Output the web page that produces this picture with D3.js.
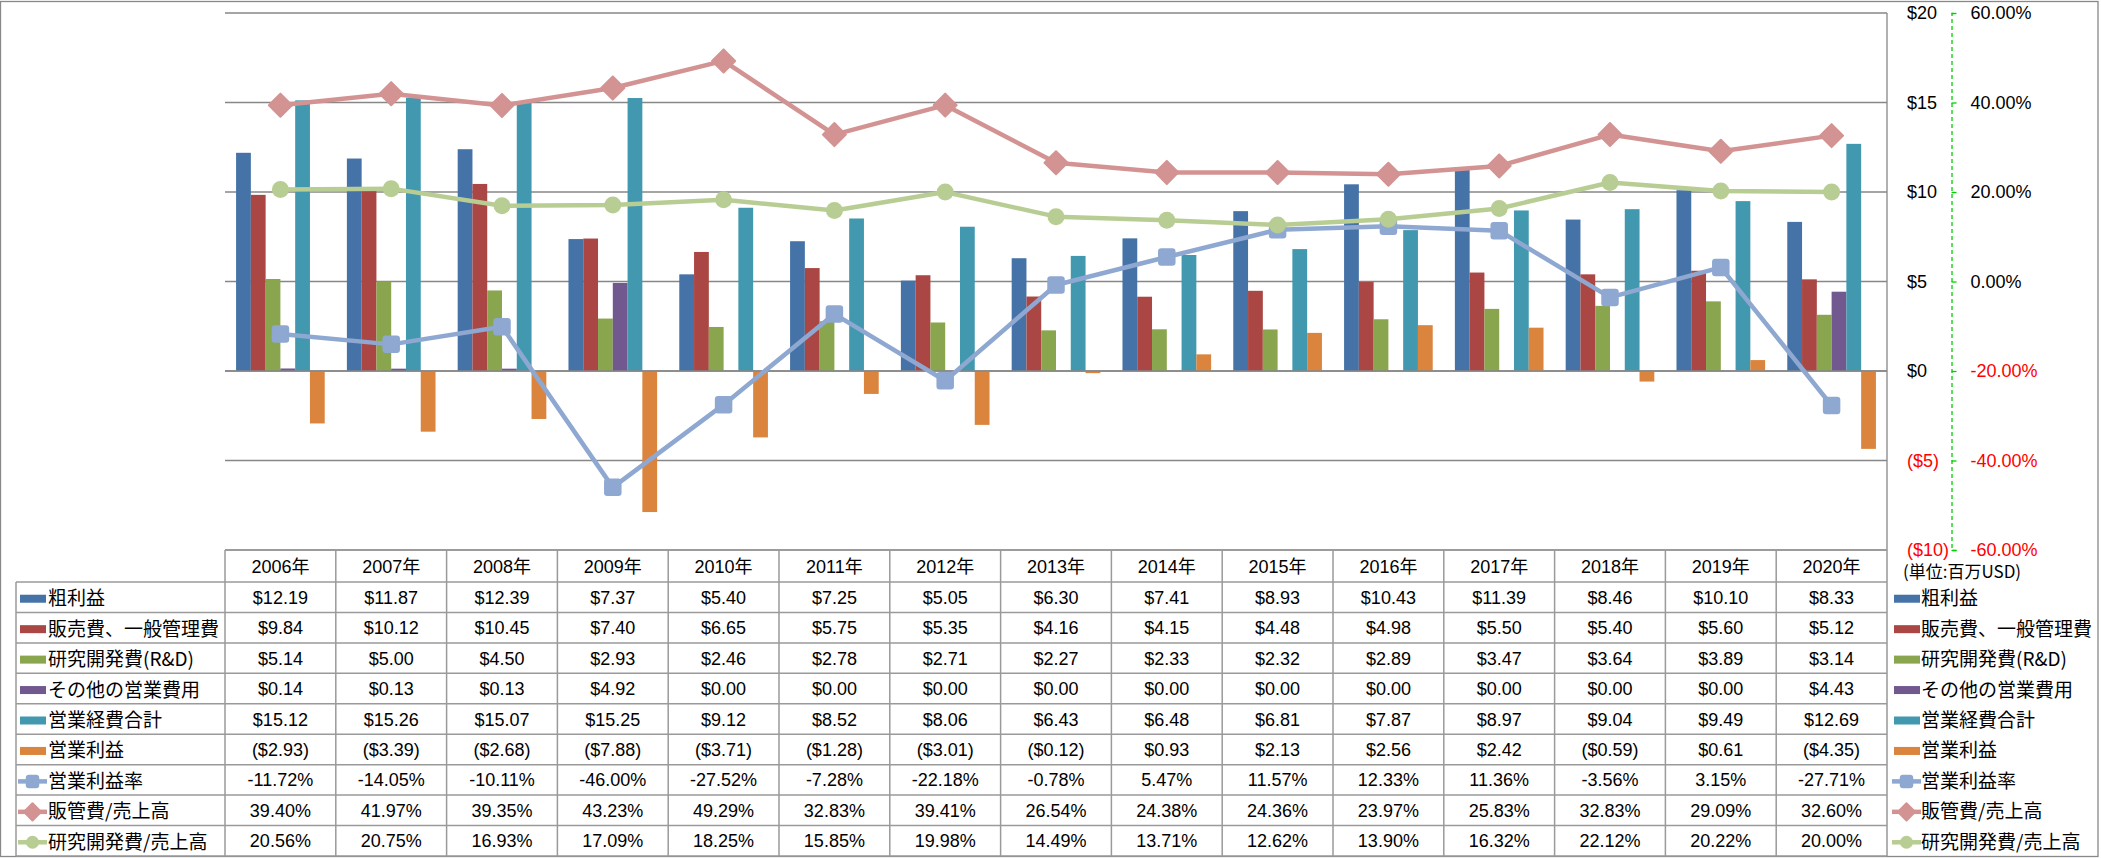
<!DOCTYPE html>
<html><head><meta charset="utf-8">
<script src="https://cdn.jsdelivr.net/npm/d3@7"></script>
<style>
html,body{margin:0;padding:0;background:#fff;}
svg{display:block;font-family:'Liberation Sans','Noto Sans CJK JP',sans-serif;}
</style></head><body>
<svg id="chart" width="2101" height="858"></svg>
<script>
// ---------- data ----------
const years = ["2006年","2007年","2008年","2009年","2010年","2011年","2012年","2013年","2014年","2015年","2016年","2017年","2018年","2019年","2020年"];
const grossProfit = [12.19,11.87,12.39,7.37,5.40,7.25,5.05,6.30,7.41,8.93,10.43,11.39,8.46,10.10,8.33];
const sgaExpense  = [9.84,10.12,10.45,7.40,6.65,5.75,5.35,4.16,4.15,4.48,4.98,5.50,5.40,5.60,5.12];
const rndExpense  = [5.14,5.00,4.50,2.93,2.46,2.78,2.71,2.27,2.33,2.32,2.89,3.47,3.64,3.89,3.14];
const otherOpex   = [0.14,0.13,0.13,4.92,0.00,0.00,0.00,0.00,0.00,0.00,0.00,0.00,0.00,0.00,4.43];
const totalOpex   = [15.12,15.26,15.07,15.25,9.12,8.52,8.06,6.43,6.48,6.81,7.87,8.97,9.04,9.49,12.69];
const opIncome    = [-2.93,-3.39,-2.68,-7.88,-3.71,-1.28,-3.01,-0.12,0.93,2.13,2.56,2.42,-0.59,0.61,-4.35];
const opMargin    = [-11.72,-14.05,-10.11,-46.00,-27.52,-7.28,-22.18,-0.78,5.47,11.57,12.33,11.36,-3.56,3.15,-27.71];
const sgaRatio    = [39.40,41.97,39.35,43.23,49.29,32.83,39.41,26.54,24.38,24.36,23.97,25.83,32.83,29.09,32.60];
const rndRatio    = [20.56,20.75,16.93,17.09,18.25,15.85,19.98,14.49,13.71,12.62,13.90,16.32,22.12,20.22,20.00];
const moneyTicks  = [20,15,10,5,0,-5,-10];
const pctTicks    = [60,40,20,0,-20,-40,-60];
const unitLabel   = "(単位:百万USD)";

const barSeries = [
  {name:"粗利益", values:grossProfit, color:"#4572A7"},
  {name:"販売費、一般管理費", values:sgaExpense, color:"#AA4643"},
  {name:"研究開発費(R&D)", values:rndExpense, color:"#89A54E"},
  {name:"その他の営業費用", values:otherOpex, color:"#71588F"},
  {name:"営業経費合計", values:totalOpex, color:"#4198AF"},
  {name:"営業利益", values:opIncome, color:"#DB843D"}
];
const lineSeries = [
  {name:"営業利益率", values:opMargin, color:"#8EA8D1", marker:"square"},
  {name:"販管費/売上高", values:sgaRatio, color:"#D39393", marker:"diamond"},
  {name:"研究開発費/売上高", values:rndRatio, color:"#B8CD93", marker:"circle"}
];

// ---------- layout ----------
const plotL=225, plotR=1887, plotT=13, plotB=550, tableB=856, legendL=16;
const gridColor="#878787", tableColor="#9a9a9a";
const svg=d3.select("#chart");

const x=d3.scaleBand().domain(years).range([plotL,plotR]);
const bw=x.bandwidth();
const xb=d3.scaleBand().domain(barSeries.map(s=>s.name)).range([bw*0.1,bw*0.9]);
const y=d3.scaleLinear().domain([-10,20]).range([plotB,plotT]);
const y2=d3.scaleLinear().domain([-60,60]).range([plotB,plotT]);

// outer border
svg.append("rect").attr("x",0.5).attr("y",1.5).attr("width",2097.5).attr("height",855)
  .attr("fill","none").attr("stroke","#888").attr("stroke-width",1.3);

// gridlines
svg.append("g").selectAll("line").data(moneyTicks).join("line")
  .attr("x1",plotL).attr("x2",plotR).attr("y1",d=>y(d)).attr("y2",d=>y(d))
  .attr("stroke",gridColor).attr("stroke-width",1.3);

// bars
const gBars=svg.append("g");
barSeries.forEach(s=>{
  gBars.append("g").selectAll("rect").data(s.values.map((v,i)=>({v,year:years[i]}))).join("rect")
    .attr("x",d=>x(d.year)+xb(s.name)).attr("width",xb.bandwidth())
    .attr("y",d=>y(Math.max(0,d.v))).attr("height",d=>Math.abs(y(d.v)-y(0)))
    .attr("fill",s.color);
});
// zero line over bars
svg.append("line").attr("x1",plotL).attr("x2",plotR).attr("y1",y(0)).attr("y2",y(0))
  .attr("stroke",gridColor).attr("stroke-width",1.3);

// markers
function drawMarker(g,type,cx,cy,color,size){
  if(type==="square"){
    g.append("rect").attr("x",cx-size/2).attr("y",cy-size/2).attr("width",size).attr("height",size)
      .attr("rx",2.5).attr("fill",color).attr("stroke",color).attr("stroke-width",1.5);
  } else if(type==="diamond"){
    const r=size*0.72;
    g.append("path").attr("d",`M${cx},${cy-r}L${cx+r},${cy}L${cx},${cy+r}L${cx-r},${cy}Z`)
      .attr("fill",color).attr("stroke",color).attr("stroke-width",2).attr("stroke-linejoin","round");
  } else {
    g.append("circle").attr("cx",cx).attr("cy",cy).attr("r",size/2+0.5).attr("fill",color);
  }
}

// lines
const gLines=svg.append("g");
lineSeries.forEach(s=>{
  const pts=s.values.map((v,i)=>[x(years[i])+bw/2,y2(v)]);
  gLines.append("path").attr("d",d3.line()(pts)).attr("fill","none")
    .attr("stroke",s.color).attr("stroke-width",4.5).attr("stroke-linejoin","round");
  const gm=gLines.append("g");
  pts.forEach(p=>drawMarker(gm,s.marker,p[0],p[1],s.color,16));
});

// right boundary line
svg.append("line").attr("x1",plotR).attr("x2",plotR).attr("y1",plotT).attr("y2",tableB)
  .attr("stroke",gridColor).attr("stroke-width",1.3);

// money axis labels
const axMoney=svg.append("g").attr("transform","translate(1907,0)")
  .call(d3.axisRight(y).tickValues(moneyTicks).tickSize(0).tickPadding(0)
    .tickFormat(d=>d<0?`($${-d})`:`$${d}`));
axMoney.select(".domain").remove();
axMoney.selectAll("text").attr("font-size",18).attr("font-family","'Liberation Sans',sans-serif")
  .attr("fill",d=>d<0?"#FF0000":"#000");

// percent axis
const axPct=svg.append("g").attr("transform","translate(1951.5,0)")
  .call(d3.axisRight(y2).tickValues(pctTicks).tickSize(5).tickSizeOuter(5).tickPadding(14)
    .tickFormat(d=>d.toFixed(2)+"%"));
axPct.select(".domain").attr("stroke","#00D000").attr("stroke-width",1.3).attr("stroke-dasharray","4,3");
axPct.selectAll(".tick line").attr("stroke","#00D000").attr("stroke-width",1.3);
axPct.selectAll("text").attr("font-size",18).attr("font-family","'Liberation Sans',sans-serif")
  .attr("fill",d=>d<0?"#FF0000":"#000");

// unit label
svg.append("text").attr("x",1903).attr("y",578).attr("font-size",17)
  .attr("font-family","'Noto Sans CJK JP',sans-serif").text(unitLabel);

// ---------- data table ----------
const fmtMoney=v=>v<0?`($${(-v).toFixed(2)})`:`$${v.toFixed(2)}`;
const fmtPct=v=>`${v.toFixed(2)}%`;
const rows=[
  ...barSeries.map(s=>({name:s.name,values:s.values,fmt:fmtMoney,color:s.color,type:"bar"})),
  ...lineSeries.map(s=>({name:s.name,values:s.values,fmt:fmtPct,color:s.color,type:"line",marker:s.marker}))
];
const headerT=plotB, rowsT=582;
const ry=d3.scaleBand().domain(rows.map(r=>r.name)).range([rowsT,tableB]);
const gT=svg.append("g");
// horizontal lines
gT.append("line").attr("x1",plotL).attr("x2",plotR).attr("y1",headerT).attr("y2",headerT)
  .attr("stroke",tableColor).attr("stroke-width",1.5);
const hLines=d3.range(rows.length+1).map(i=>rowsT+i*ry.step());
gT.selectAll(".hl").data(hLines).join("line").attr("class","hl")
  .attr("x1",legendL).attr("x2",plotR).attr("y1",d=>d).attr("y2",d=>d)
  .attr("stroke",tableColor).attr("stroke-width",1.5);
// vertical lines
gT.selectAll(".vl").data(years).join("line").attr("class","vl")
  .attr("x1",d=>x(d)).attr("x2",d=>x(d)).attr("y1",headerT).attr("y2",tableB)
  .attr("stroke",tableColor).attr("stroke-width",1.5);
gT.append("line").attr("x1",legendL).attr("x2",legendL).attr("y1",rowsT).attr("y2",tableB)
  .attr("stroke",tableColor).attr("stroke-width",1.5);
// header labels
gT.selectAll(".yr").data(years).join("text").attr("class","yr")
  .attr("x",d=>x(d)+bw/2).attr("y",(headerT+rowsT)/2+6.5).attr("text-anchor","middle")
  .attr("font-size",18).text(d=>d);
// cells
rows.forEach(r=>{
  gT.append("g").selectAll("text").data(r.values.map((v,i)=>({v,year:years[i]}))).join("text")
    .attr("x",d=>x(d.year)+bw/2).attr("y",ry(r.name)+ry.bandwidth()/2+6.5)
    .attr("text-anchor","middle").attr("font-size",18).text(d=>r.fmt(d.v));
});
// legends (left in table, right outside)
function drawLegend(x0,textX){
  rows.forEach(r=>{
    const cy=ry(r.name)+ry.bandwidth()/2+1.5;
    const g=gT.append("g");
    if(r.type==="bar"){
      g.append("rect").attr("x",x0+2).attr("y",cy-4).attr("width",26).attr("height",8).attr("fill",r.color);
    } else {
      g.append("line").attr("x1",x0).attr("x2",x0+29).attr("y1",cy).attr("y2",cy)
        .attr("stroke",r.color).attr("stroke-width",4.5);
      drawMarker(g,r.marker,x0+14.5,cy,r.color,12);
    }
    g.append("text").attr("x",textX).attr("y",cy+6.5).attr("font-size",19)
      .attr("font-family","'Noto Sans CJK JP',sans-serif").text(r.name);
  });
}
drawLegend(18,48);
drawLegend(1892,1921);
</script>
</body></html>
